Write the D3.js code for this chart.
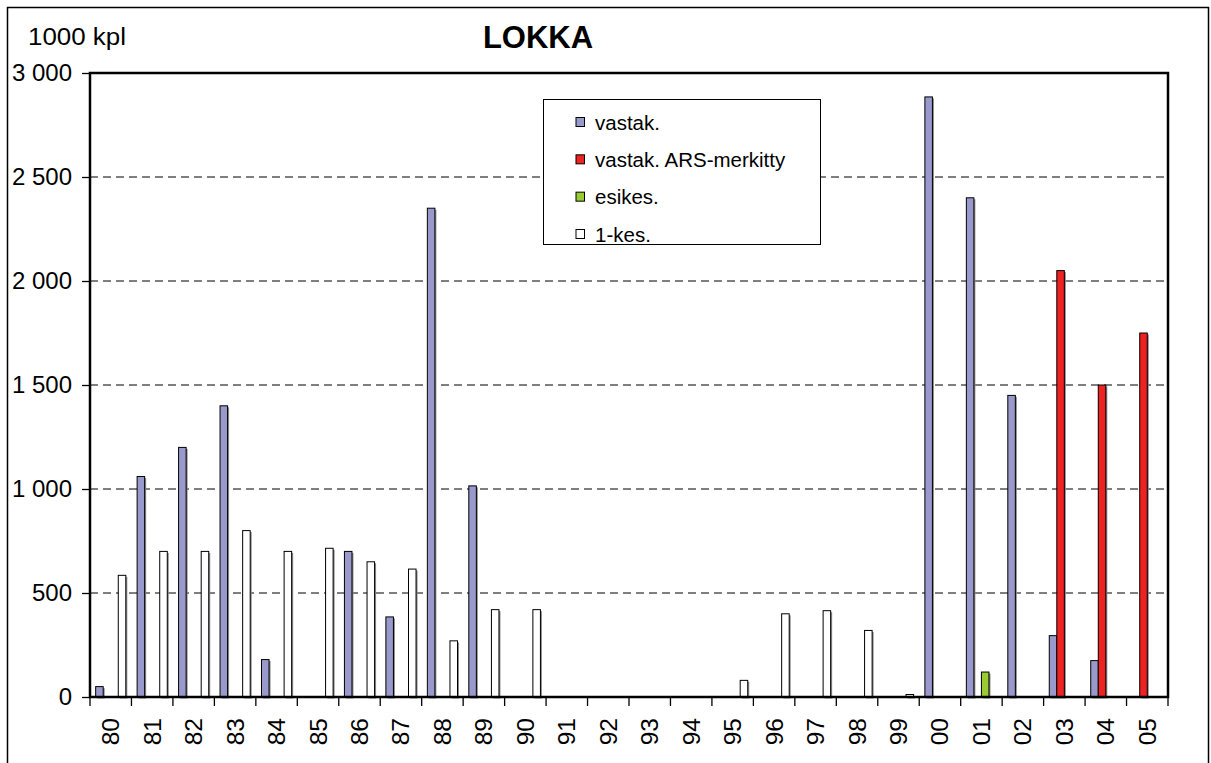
<!DOCTYPE html>
<html><head><meta charset="utf-8">
<script src="https://cdn.jsdelivr.net/npm/d3@7"></script>
<style>body{margin:0;background:#fff}svg{display:block;font-family:"Liberation Sans",Arial,sans-serif}</style>
</head><body><svg id="c" width="1211" height="763"></svg>
<script>
const categories = ["80","81","82","83","84","85","86","87","88","89","90","91","92","93","94","95","96","97","98","99","00","01","02","03","04","05"];
const seriesNames = ["vastak.","vastak. ARS-merkitty","esikes.","1-kes."];
const vastak   = [50,1060,1200,1400,180,0,700,385,2350,1015,0,0,0,0,0,0,0,0,0,0,2885,2400,1450,295,175,0];
const vastakARS= [0,0,0,0,0,0,0,0,0,0,0,0,0,0,0,0,0,0,0,0,0,0,0,2050,1500,1750];
const esikes   = [0,0,0,0,0,0,0,0,0,0,0,0,0,0,0,0,0,0,0,0,0,120,0,0,0,0];
const kes1     = [585,700,700,800,700,715,650,615,270,420,420,0,0,0,0,80,400,415,320,12,0,0,0,0,0,0];
const yTicks = [0,500,1000,1500,2000,2500,3000];
const colors = ["#9999cc","#ee2222","#99cc33","#ffffff"];
const seriesData = [vastak, vastakARS, esikes, kes1];

const svg = d3.select("#c");
const L=90, R=1168, T=73, B=697;

// outer frame
svg.append("rect").attr("x",7.5).attr("y",7.5).attr("width",1201).attr("height",800)
  .attr("fill","none").attr("stroke","#000").attr("stroke-width",1.5);

const x0 = d3.scaleBand().domain(categories).range([L,R]).paddingInner(0).paddingOuter(0);
const x1 = d3.scaleBand().domain(seriesNames).range([0,x0.bandwidth()]).paddingInner(0).paddingOuter(0.75);
const y = d3.scaleLinear().domain([0,3000]).range([B,T]);
const fmt = v => d3.format(",")(v).replace(/,/g," ");

// gridlines
svg.append("g").selectAll("line").data(yTicks.filter(v=>v>0&&v<3000)).join("line")
  .attr("x1",L).attr("x2",R).attr("y1",d=>y(d)).attr("y2",d=>y(d))
  .attr("stroke","#555").attr("stroke-width",1.3).attr("stroke-dasharray","8,5");

// bars
const flat=[];
seriesData.forEach((arr,si)=>arr.forEach((v,ci)=>{ if(v>0) flat.push({s:seriesNames[si],si,c:categories[ci],v}); }));
const gB = svg.append("g");
gB.selectAll("rect.sh").data(flat).join("rect").attr("class","sh")
  .attr("x",d=>x0(d.c)+x1(d.s)+1.5).attr("y",d=>y(d.v)+1.5)
  .attr("width",x1.bandwidth()).attr("height",d=>B-y(d.v))
  .attr("fill","#8a8a8a");
gB.selectAll("rect.b").data(flat).join("rect").attr("class","b")
  .attr("x",d=>x0(d.c)+x1(d.s)).attr("y",d=>y(d.v))
  .attr("width",x1.bandwidth()).attr("height",d=>B-y(d.v))
  .attr("fill",d=>colors[d.si]).attr("stroke","#000").attr("stroke-width",1);

// plot frame
svg.append("rect").attr("x",L).attr("y",T).attr("width",R-L).attr("height",B-T)
  .attr("fill","none").attr("stroke","#000").attr("stroke-width",2.5);

// y axis
const ya = d3.axisLeft(y).tickValues(yTicks).tickFormat(fmt).tickSize(8).tickPadding(10);
const gy = svg.append("g").attr("transform",`translate(${L},0)`).call(ya);
gy.select(".domain").remove();
gy.selectAll(".tick line").attr("stroke","#000").attr("stroke-width",1.3);
gy.selectAll("text").attr("font-size","24px").attr("fill","#000").attr("font-family","Liberation Sans, Arial");

// x axis: ticks at boundaries
const bounds = categories.map(c=>x0(c)).concat([R]);
svg.append("g").selectAll("line").data(bounds).join("line")
  .attr("x1",d=>d).attr("x2",d=>d).attr("y1",B).attr("y2",B+9)
  .attr("stroke","#000").attr("stroke-width",1.3);
svg.append("g").selectAll("text").data(categories).join("text")
  .attr("transform",d=>`translate(${x0(d)+x0.bandwidth()/2},${B+21}) rotate(-90)`)
  .attr("text-anchor","end").attr("dominant-baseline","central")
  .attr("font-size","24.5px").attr("fill","#000").text(d=>d);

// titles
svg.append("text").attr("x",28).attr("y",45).attr("font-size","23px")
  .attr("textLength",98).attr("lengthAdjust","spacingAndGlyphs").text("1000 kpl");
svg.append("text").attr("x",538).attr("y",48).attr("text-anchor","middle")
  .attr("font-size","31px").attr("font-weight","bold").text("LOKKA");

// legend
const lg = svg.append("g");
lg.append("rect").attr("x",543.5).attr("y",99.5).attr("width",277).attr("height",145)
  .attr("fill","#fff").attr("stroke","#000").attr("stroke-width",1);
const rowY = d3.scalePoint().domain(seriesNames).range([122,234]);
seriesNames.forEach((s,i)=>{
  lg.append("rect").attr("x",576).attr("y",rowY(s)-4.5).attr("width",8.5).attr("height",9)
    .attr("fill",colors[i]).attr("stroke","#000").attr("stroke-width",1);
  lg.append("text").attr("x",595).attr("y",rowY(s)).attr("dominant-baseline","central")
    .attr("font-size","20.5px").text(s);
});
</script></body></html>
